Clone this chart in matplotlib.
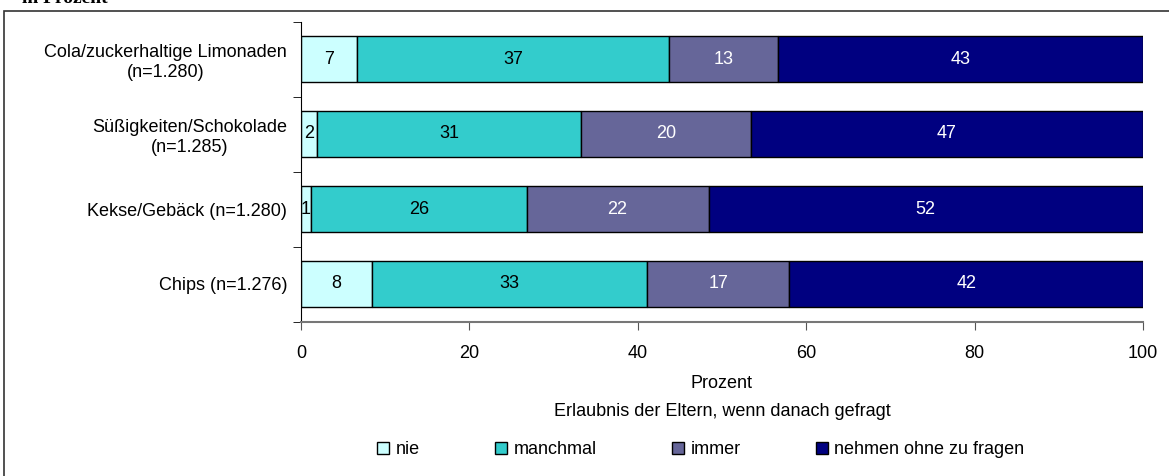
import matplotlib
matplotlib.use("Agg")
import matplotlib.pyplot as plt
from matplotlib.patches import Rectangle, Patch
import numpy as np

plt.rcParams['font.family'] = ['Liberation Sans', 'DejaVu Sans']

# Daten (Prozent)
kategorien = ["Cola/zuckerhaltige Limonaden\n(n=1.280)",
              "Süßigkeiten/Schokolade\n(n=1.285)",
              "Kekse/Gebäck (n=1.280)",
              "Chips (n=1.276)"]
serien = ["nie", "manchmal", "immer", "nehmen ohne zu fragen"]
nie = [6.7, 1.9, 1.2, 8.4]
manchmal = [37.0, 31.4, 25.6, 32.7]
immer = [13.0, 20.1, 21.6, 16.9]
ohne_fragen = [43.3, 46.6, 51.6, 42.0]
x_ticks = [0, 20, 40, 60, 80, 100]

farben = ["#CCFFFF", "#33CCCC", "#666699", "#000080"]
textfarben = ["black", "black", "white", "white"]
fs = 13

W, H = 1169, 476
fig = plt.figure(figsize=(W / 100, H / 100), dpi=100)
ax = fig.add_axes([301 / W, 1 - 321.5 / H, (1143 - 301) / W, 300 / H])

y = np.arange(len(kategorien))
links = np.zeros(len(kategorien))
for werte, name, farbe, tf in zip([nie, manchmal, immer, ohne_fragen], serien, farben, textfarben):
    bars = ax.barh(y, werte, left=links, height=0.62, color=farbe,
                   edgecolor="black", linewidth=1, label=name)
    ax.bar_label(bars, labels=[str(int(round(v))) for v in werte],
                 label_type="center", color=tf, fontsize=fs)
    links += np.array(werte)

ax.set_xlim(0, 100)
ax.set_ylim(len(kategorien) - 0.5, -0.5)
ax.set_xticks(x_ticks)
ax.set_yticks(y)
ax.set_yticklabels(kategorien, multialignment="center")
ax.set_yticks(np.arange(-0.5, len(kategorien)), minor=True)
ax.tick_params(axis="y", which="major", length=0, pad=10, labelsize=fs)
ax.tick_params(axis="y", which="minor", length=6, direction="out", color="black")
ax.tick_params(axis="x", length=6, direction="out", color="#555555", pad=11, labelsize=fs)

ax.spines["top"].set_visible(False)
ax.spines["right"].set_visible(False)
ax.spines["left"].set_color("black")
ax.spines["bottom"].set_color("#777777")
ax.spines["bottom"].set_linewidth(1.5)

fig.text(722 / W, 1 - 383 / H, "Prozent", ha="center", va="center", fontsize=fs)
fig.text(722 / W, 1 - 412 / H, "Erlaubnis der Eltern, wenn danach gefragt",
         ha="center", va="center", fontsize=fs)

# abgeschnittener Titel oben links
fig.text(22 / W, 1 - 3 / H, "in Prozent", ha="left", va="baseline",
         fontsize=14, fontweight="bold", family=["Liberation Serif", "DejaVu Serif"])

# Rahmen
fig.add_artist(Rectangle((4 / W, -0.1), 2, 1 - 10.5 / H + 0.1, transform=fig.transFigure,
                         fill=False, edgecolor="#333333", linewidth=1.2))

handles = [Patch(facecolor=f, edgecolor="black", linewidth=1) for f in farben]
fig.legend(handles, serien, loc="center", bbox_to_anchor=(701 / W, 1 - 450 / H),
           ncol=4, frameon=False, fontsize=fs, handlelength=0.65, handleheight=0.65,
           handletextpad=0.35, columnspacing=4.2)

fig.savefig("out.png", dpi=100)
